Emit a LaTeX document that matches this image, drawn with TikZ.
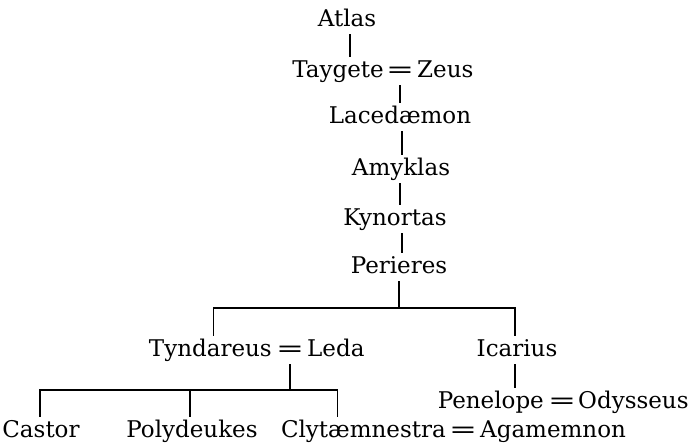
\documentclass[tikz,border=0pt]{standalone}
\usepackage{fontspec}
\setmainfont{DejaVu Serif}
\newcommand\wedsign{\scalebox{1.45}[1]{=}}
\begin{document}
\begin{tikzpicture}[x=1pt,y=-1pt,
  person/.style={inner sep=2pt,text height=18pt,text depth=6pt,font=\fontsize{23}{27}\selectfont},
  marriage/.style={person},
  link/.style={line width=1.7pt}]
\useasboundingbox (0,0) rectangle (693,447);
% generation rows
\node[person,anchor=base] (Atl) at (347,26) {Atlas};
\node[person,anchor=base east] (Tay) at (386,77) {Taygete};
\node[marriage,anchor=base] (eq1) at (400,77) {\wedsign};
\node[person,anchor=base west] (Zeu) at (415,77) {Zeus};
\node[person,anchor=base] (Lac) at (400,123) {Lacedæmon};
\node[person,anchor=base] (Amy) at (401,175) {Amyklas};
\node[person,anchor=base] (Kyn) at (395,225) {Kynortas};
\node[person,anchor=base] (Per) at (399,273) {Perieres};
\node[person,anchor=base east] (Tyn) at (274,356) {Tyndareus};
\node[marriage,anchor=base] (eq2) at (290,356) {\wedsign};
\node[person,anchor=base west] (Led) at (305,356) {Leda};
\node[person,anchor=base] (Ica) at (517,356) {Icarius};
\node[person,anchor=base east] (Pen) at (546,408) {Penelope};
\node[marriage,anchor=base] (eq3) at (562,408) {\wedsign};
\node[person,anchor=base west] (Ody) at (576,408) {Odysseus};
\node[person,anchor=base] (Cas) at (41,437) {Castor};
\node[person,anchor=base] (Pol) at (192,437) {Polydeukes};
\node[person,anchor=base east] (Cly) at (448,437) {Clytæmnestra};
\node[marriage,anchor=base] (eq4) at (463,437) {\wedsign};
\node[person,anchor=base west] (Aga) at (478,437) {Agamemnon};
\coordinate (b1) at (400,308);
\coordinate (b2) at (290,390);
% connectors
\draw[link] ([xshift=3]Atl.south) -- ([xshift=3]Atl.south |- Tay.north);
\draw[link] (eq1.south) -- (eq1.south |- Lac.north);
\draw[link] ([xshift=2]Lac.south) -- ([xshift=2]Lac.south |- Amy.north);
\draw[link] ([xshift=-1]Amy.south) -- ([xshift=-1]Amy.south |- Kyn.north);
\draw[link] ([xshift=7]Kyn.south) -- ([xshift=7]Kyn.south |- Per.north);
\draw[link] (Per.south) -- (Per.south |- b1);
\draw[link] ([xshift=3]Tyn.north) |- (b1) -| ([xshift=-2]Ica.north);
\draw[link] (eq2.south) -- (eq2.south |- b2);
\draw[link] ([xshift=-2]Ica.south) -- ([xshift=-2]Ica.south |- Pen.north);
\draw[link] ([xshift=-1]Cas.north) |- (b2) -| ([xshift=-26]Cly.north);
\draw[link] ([xshift=-2]Pol.north) -- ([xshift=-2]Pol.north |- b2);
\end{tikzpicture}
\end{document}
